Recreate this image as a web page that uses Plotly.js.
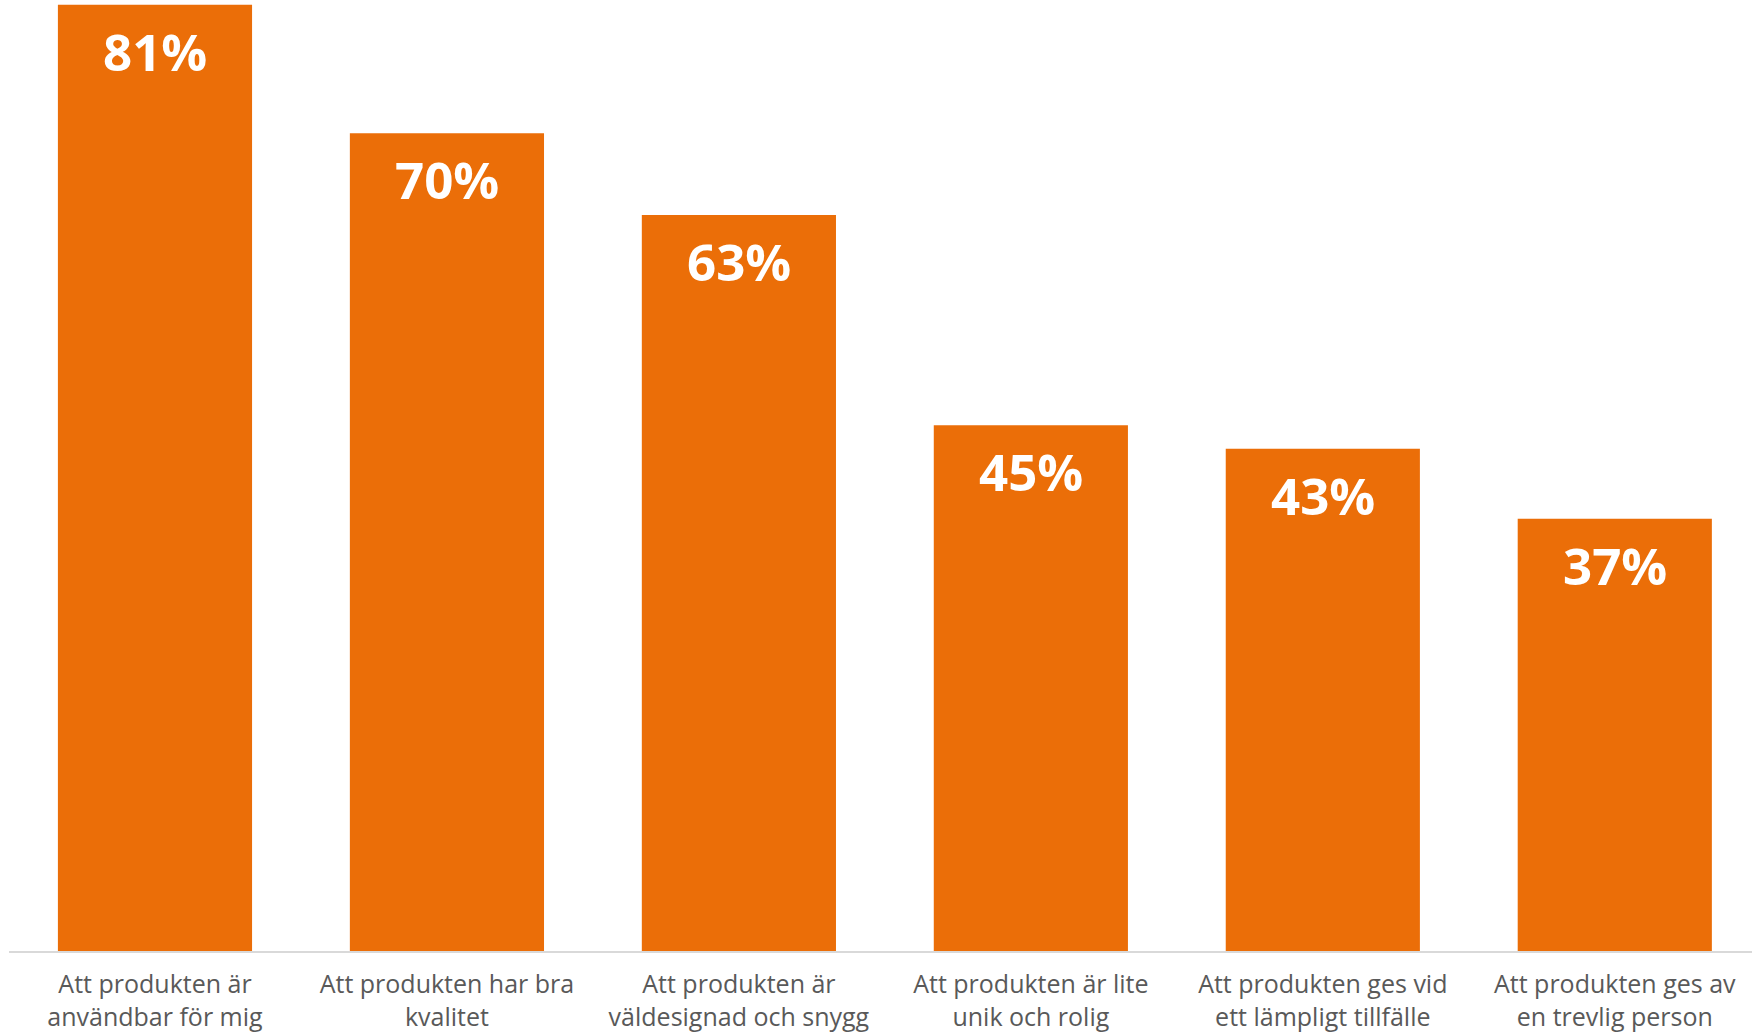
<!DOCTYPE html>
<html>
<head>
<meta charset="utf-8">
<script src="https://cdn.plot.ly/plotly-3.0.1.min.js"></script>
<style>html,body{margin:0;padding:0;background:#fff;}#chart{width:1752px;height:1034px;}</style>
</head>
<body>
<div id="chart"></div>
<script>
var categories = [
  "Att produkten är<br>användbar för mig",
  "Att produkten har bra<br>kvalitet",
  "Att produkten är<br>väldesignad och snygg",
  "Att produkten är lite<br>unik och rolig",
  "Att produkten ges vid<br>ett lämpligt tillfälle",
  "Att produkten ges av<br>en trevlig person"
];
var values = [81, 70, 63, 45, 43, 37];
var valueLabels = values.map(function(v){ return v + "%"; });

var trace = {
  type: "bar",
  x: categories,
  y: values,
  marker: {color: "#EB6E08"},
  hoverinfo: "none"
};

var annotations = values.map(function(v, i){
  return {
    x: categories[i], y: v, xref: "x", yref: "y",
    text: "<b>" + valueLabels[i] + "</b>",
    showarrow: false, yanchor: "middle", yshift: -46,
    font: {family: "Open Sans, sans-serif", size: 51, color: "#ffffff"}
  };
});

var layout = {
  width: 1752, height: 1034,
  margin: {l: 9, r: 0, t: 0, b: 83},
  paper_bgcolor: "#ffffff", plot_bgcolor: "#ffffff",
  bargap: 0.335,
  showlegend: false,
  xaxis: {
    range: [-0.5, 5.47],
    showline: true, linecolor: "#d9d9d9", linewidth: 2,
    ticks: "", showgrid: false, zeroline: false,
    ticklabelstandoff: 10,
    tickfont: {family: "Open Sans, sans-serif", size: 25, color: "#595959"}
  },
  yaxis: {
    range: [0, 81.4], visible: false, showgrid: false, zeroline: false
  },
  annotations: annotations
};

Plotly.newPlot("chart", [trace], layout, {displayModeBar: false, staticPlot: true});
</script>
</body>
</html>
